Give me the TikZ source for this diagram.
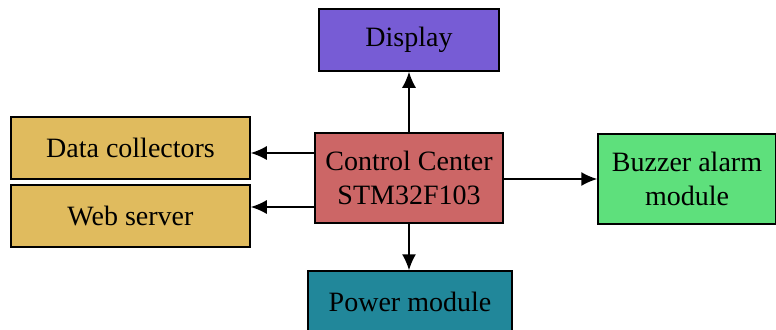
\documentclass[tikz,border=0pt]{standalone}
\usepackage{fontspec}
\setmainfont{Liberation Serif}
\usetikzlibrary{arrows.meta}

\definecolor{displaycol}{RGB}{119,92,213}
\definecolor{ctrlcol}{RGB}{204,102,102}
\definecolor{datacol}{RGB}{224,187,94}
\definecolor{buzzcol}{RGB}{94,224,124}
\definecolor{powercol}{RGB}{33,135,154}

\begin{document}
\begin{tikzpicture}[x=0.5pt,y=-0.5pt]
    \tikzstyle{block}=[draw, line width=0.75pt, align=center, inner sep=0pt,
                       font=\fontsize{14}{17}\selectfont]
    \tikzstyle{link}=[line width=0.8pt, -{Latex[length=8pt,width=7pt]}]

    \useasboundingbox (0,0) rectangle (776,329);

    % Blocks
    \node [block, fill=ctrlcol, minimum width=94pt, minimum height=45pt] (ctrl) at (409,178)
          {Control Center\\STM32F103};
    \node [block, fill=displaycol, minimum width=90pt, minimum height=31pt] (display) at (409,40)
          {Display};
    \node [block, fill=datacol, minimum width=119.5pt, minimum height=31pt] (data) at (130.5,148)
          {Data collectors};
    \node [block, fill=datacol, minimum width=119.5pt, minimum height=31pt] (web) at (130.5,216)
          {Web server};
    \node [block, fill=buzzcol, minimum width=89pt, minimum height=45pt] (buzzer) at (687,179)
          {Buzzer alarm\\module};
    \node [block, fill=powercol, minimum width=102pt, minimum height=31pt] (power) at (410,302)
          {Power module};

    % Connections from the control center
    \draw [link] (ctrl.north) -- (display.south);
    \draw [link] (ctrl.south) -- (power.north -| ctrl.south);
    \draw [link] (ctrl.west |- 0,153) -- (data.east |- 0,153);
    \draw [link] (ctrl.west |- 0,207) -- (web.east |- 0,207);
    \draw [link] (ctrl.east |- buzzer.west) -- (buzzer.west);
\end{tikzpicture}
\end{document}
